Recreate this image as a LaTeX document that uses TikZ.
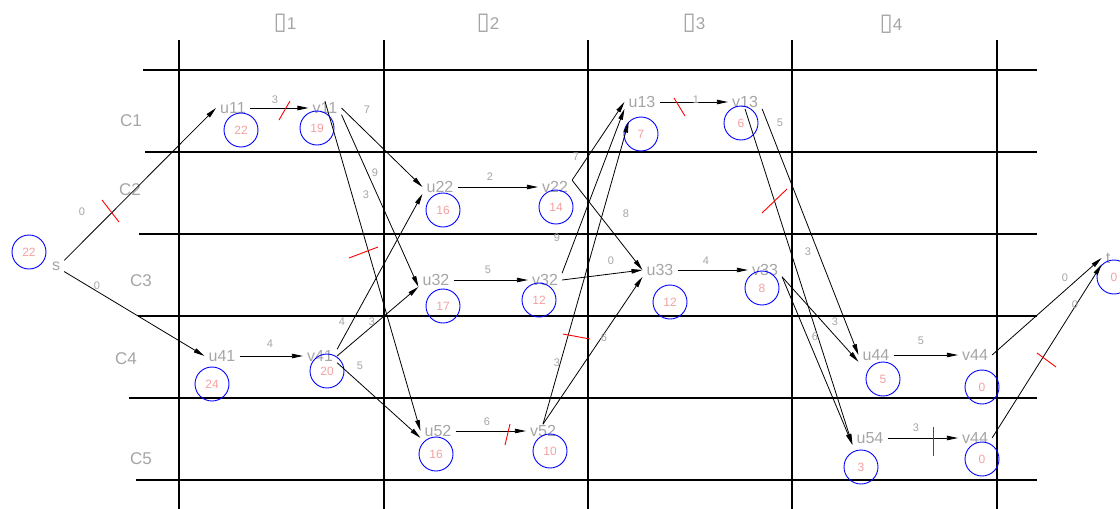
\documentclass[tikz,border=0pt]{standalone}
\usepackage{fontspec}
\setmainfont{Liberation Sans}
\newfontfamily\boxfont{DejaVu Sans}
\usetikzlibrary{
	arrows.meta,
	positioning
}
\definecolor{LabelGray}{RGB}{165,165,165}
\definecolor{NumPink}{RGB}{245,160,160}
\definecolor{RingBlue}{RGB}{0,0,255}
\definecolor{CutRed}{RGB}{255,0,0}

\tikzset{
	vert/.style={font=\fontsize{16}{16}\selectfont, text=LabelGray, inner xsep=4pt, inner ysep=1pt},
	ring/.style={circle, draw=RingBlue, line width=0.9pt, minimum size=34pt, inner sep=0pt,
		font=\fontsize{12}{12}\selectfont, text=NumPink},
	wt/.style={font=\fontsize{11}{11}\selectfont, text=LabelGray, inner sep=0pt},
	flow/.style={-{Triangle[length=11pt,width=4.5pt]}, line width=0.8pt},
	gridline/.style={line width=1.1pt},
	cutmark/.style={CutRed, line width=0.9pt},
	colhead/.style={font=\fontsize{17}{17}\selectfont, text=LabelGray},
}
\newcommand{\missbox}{{\boxfont\fontsize{24}{24}\selectfont ▯}}

\begin{document}
\begin{tikzpicture}[x=1pt, y=-1pt]
	\useasboundingbox (0,0) rectangle (1120,509);

	% table
	\foreach \x in {179,384,588,792,997}
		\draw[gridline] (\x,40) -- (\x,509);
	\foreach \y/\s in {70/143,152/145,234/139,316/138,398/129,480/136}
		\draw[gridline] (\s,\y) -- (1037,\y);

	\foreach \n/\x/\y/\k in {d1/285/23/1, d2/488/23/2, d3/694/23/3, d4/891/24/4}
		\node[colhead] (\n) at (\x,\y) {\missbox\k};
	\foreach \n/\x/\y in {C1/131/121, C2/130/190, C3/141/281, C4/126/359, C5/141/459}
		\node[colhead] (\n) at (\x,\y) {\n};

	% vertices
	\foreach \n/\x/\y/\txt in {s/56/266/s, u11/233/108/u11, v11/325/108/v11,
			u22/440/187/u22, v22/555/187/v22, u32/436/280/u32, v32/545/280/v32,
			u13/642/102/u13, v13/745/102/v13, u33/660/270/u33, v33/765/270/v33,
			u41/222/356/u41, v41/320/356/v41, u52/438/431/u52, v52/543/431/v52,
			u44/876/355/u44, v44a/975/355/v44, u54/870/438/u54, v44b/975/438/v44,
			t/1108/258/t}
		\node[vert] (\n) at (\x,\y) {\txt};

	% potentials
	\foreach \n/\x/\y/\d in {s/29/252/22, u11/241/130/22, v11/317/128/19,
			u22/443/210/16, v22/556/207/14, u32/443/306/17, v32/539/300/12,
			u13/641/134/7, v13/741/123/6, u33/670/302/12, v33/762/288/8,
			u41/212/384/24, v41/327/371/20, u52/436/454/16, v52/550/451/10,
			u44/883/379/5, v44a/982/387/0, u54/861/467/3, v44b/982/459/0,
			t/1114/277/0}
		\node[ring] (\n-r) at (\x,\y) {\d};

	% arcs
	\foreach \a/\b in {s.north east/u11.west, s.south east/u41.west,
			u11/v11, u41/v41,
			v11.east/u22.west, v11.south east/u32.south west, v11.north/u52.west,
			v41.north east/u22.south west, v41.east/u32.south west, v41.south east/u52.south west,
			u22/v22, u32/v32, u52/v52,
			v22.north east/u13.west, v22.north east/u33.west,
			v32.north east/u13.south west, v32.east/u33.west,
			v52.north/u13-r.north west, v52.north/u33.south west,
			u13/v13, u33/v33,
			v13.south east/u44.west, v13.south/u54.south west,
			v33.south east/u44.south west, v33.south east/u54.south west,
			u44/v44a, u54/v44b,
			v44a.east/t.west, v44b.east/t.south west}
		\draw[flow] (\a) -- (\b);

	% weights
	\foreach \n/\x/\y/\w in {w1/82/212/0, w2/97/286/0, w3/275/100/3, w4/270/344/4,
			w5/367/110/7, w6/375/173/9, w7/366/195/3, w8/342/322/4, w9/372/322/3,
			w10/360/366/5, w11/490/177/2, w12/488/270/5, w13/487/422/6,
			w14/576/157/7, w15/626/214/8, w16/557/238/9, w17/611/261/0,
			w18/557/363/3, w19/604/338/6, w20/696/100/1, w21/706/261/4,
			w22/808/252/3, w23/780/123/5, w24/835/322/3, w25/815/337/6,
			w26/921/341/5, w27/916/428/3, w28/1065/278/0, w29/1075/305/0}
		\node[wt] (\n) at (\x,\y) {\w};

	% cut marks
	\draw[cutmark] (102,200) -- (119,222);
	\draw[cutmark] (279,120) -- (290,101);
	\draw[cutmark] (349,258) -- (378,247);
	\draw[cutmark] (505,445) -- (510,424);
	\draw[cutmark] (563,334) -- (590,339);
	\draw[cutmark] (674,98) -- (685,116);
	\draw[cutmark] (762,213) -- (787,189);
	\draw[cutmark] (933,427) -- (933,456);
	\draw[cutmark] (1037,353) -- (1056,367);
\end{tikzpicture}
\end{document}
